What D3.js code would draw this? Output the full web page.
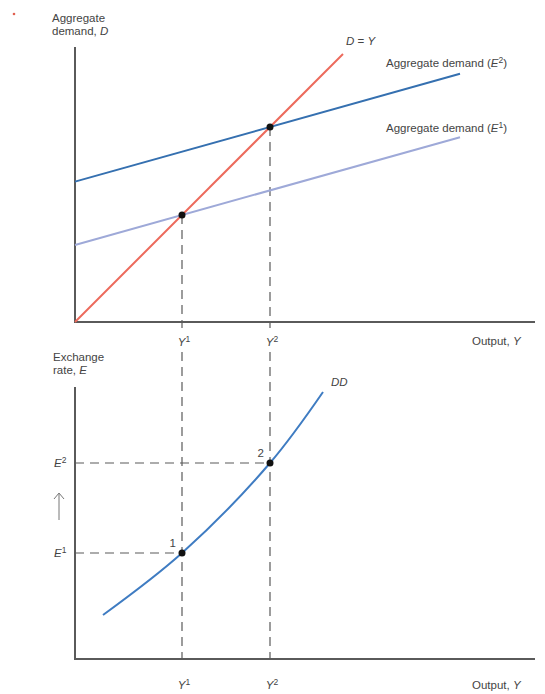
<!DOCTYPE html>
<html>
<head>
<meta charset="utf-8">
<script src="https://cdn.jsdelivr.net/npm/d3@7"></script>
<style>
  html, body { margin: 0; padding: 0; background: #fff; }
  svg { display: block; }
  text { font-family: "Liberation Sans", Arial, sans-serif; fill: #444; font-size: 11.5px; }
</style>
</head>
<body>
<svg id="chart" width="545" height="694"></svg>
<script>
// Output levels at the two equilibria
const outputLevels = [107, 195];               // Y1, Y2
const outputLabels = ["1", "2"];
// Aggregate demand lines (E1 and E2) and the 45-degree D = Y line
const lineDY = [[0, 0], [268, 268]];
const adE1 = [[0, 77], [385, 184.8]];
const adE2 = [[0, 140.4], [385, 248.2]];
// Exchange rates at the two equilibria
const exchangeLevels = [106, 196];             // E1, E2
// DD schedule
const ddCurve = [[28, 44], [107, 106], [195, 196], [248, 267]];

const svg = d3.select("#chart");
const axisColor = "#5a5a5a";

// Shared horizontal scale (output)
const x = d3.scaleLinear().domain([0, 460]).range([75, 535]);
// Top panel: aggregate demand
const yTop = d3.scaleLinear().domain([0, 275]).range([322, 47]);
// Bottom panel: exchange rate
const yBot = d3.scaleLinear().domain([0, 272]).range([659, 387]);

const line = (ys) => d3.line().x(d => x(d[0])).y(d => ys(d[1]));

// small mark in the corner
svg.append("circle").attr("cx", 14).attr("cy", 14).attr("r", 1.3).attr("fill", "#e06050");

// ---------- Axes ----------
function axes(ys, topVal) {
  svg.append("path")
    .attr("d", `M${x(0)},${ys(topVal)}V${ys(0)}H${x(460)}`)
    .attr("fill", "none").attr("stroke", axisColor).attr("stroke-width", 2);
}
axes(yTop, 275);
axes(yBot, 272);

// ---------- Dashed guides ----------
const dash = "9,6";
outputLevels.forEach((v, i) => {
  // top panel: from equilibrium point down to the axis
  svg.append("line")
    .attr("x1", x(v)).attr("x2", x(v))
    .attr("y1", yTop(v)).attr("y2", yTop(0) + 6)
    .attr("stroke", axisColor).attr("stroke-width", 1.2).attr("stroke-dasharray", dash);
  // continues through the lower panel
  svg.append("line")
    .attr("x1", x(v)).attr("x2", x(v))
    .attr("y1", 352).attr("y2", yBot(0))
    .attr("stroke", axisColor).attr("stroke-width", 1.2).attr("stroke-dasharray", dash);
});
exchangeLevels.forEach((e, i) => {
  svg.append("line")
    .attr("x1", x(0)).attr("x2", x(outputLevels[i]))
    .attr("y1", yBot(e)).attr("y2", yBot(e))
    .attr("stroke", axisColor).attr("stroke-width", 1.2).attr("stroke-dasharray", dash);
});

// ---------- Top panel lines ----------
svg.append("path").datum(adE1).attr("d", line(yTop))
  .attr("fill", "none").attr("stroke", "#9ea9d8").attr("stroke-width", 2);
svg.append("path").datum(adE2).attr("d", line(yTop))
  .attr("fill", "none").attr("stroke", "#3570b0").attr("stroke-width", 2);
svg.append("path").datum(lineDY).attr("d", line(yTop))
  .attr("fill", "none").attr("stroke", "#ec6a5c").attr("stroke-width", 2);

outputLevels.forEach(v => {
  svg.append("circle").attr("cx", x(v)).attr("cy", yTop(v)).attr("r", 3.5).attr("fill", "#111");
});

// ---------- Bottom panel curve ----------
svg.append("path").datum(ddCurve).attr("d", line(yBot).curve(d3.curveCatmullRom.alpha(0.5)))
  .attr("fill", "none").attr("stroke", "#3f7cc2").attr("stroke-width", 2);
outputLevels.forEach((v, i) => {
  svg.append("circle").attr("cx", x(v)).attr("cy", yBot(exchangeLevels[i])).attr("r", 3.5).attr("fill", "#111");
  svg.append("text").attr("x", x(v) - 6).attr("y", yBot(exchangeLevels[i]) - 6)
    .attr("text-anchor", "end").text(outputLabels[i]);
});

// ---------- Text ----------
function label(xp, yp, parts, anchor) {
  const t = svg.append("text").attr("x", xp).attr("y", yp).attr("text-anchor", anchor || "start");
  parts.forEach(p => {
    const s = t.append("tspan").text(p.t);
    if (p.i) s.attr("font-style", "italic");
    if (p.sup) s.attr("font-size", "8.5px").attr("dy", "-4");
    if (p.down) s.attr("dy", "4");
  });
  return t;
}

// axis titles
label(52, 22, [{t: "Aggregate"}]);
label(52, 35, [{t: "demand, "}, {t: "D", i: true}]);
label(53, 361, [{t: "Exchange"}]);
label(53, 374, [{t: "rate, "}, {t: "E", i: true}]);
label(472, 345, [{t: "Output, "}, {t: "Y", i: true}]);
label(472, 689, [{t: "Output, "}, {t: "Y", i: true}]);

// line labels
label(346, 45, [{t: "D", i: true}, {t: " = "}, {t: "Y", i: true}]);
label(386, 67, [{t: "Aggregate demand ("}, {t: "E", i: true}, {t: "2", sup: true}, {t: ")", down: true}]);
label(386, 132, [{t: "Aggregate demand ("}, {t: "E", i: true}, {t: "1", sup: true}, {t: ")", down: true}]);
label(331, 386, [{t: "DD", i: true}]);

// output tick labels in both panels
outputLevels.forEach((v, i) => {
  [346, 689].forEach(yp => {
    label(x(v) + 2, yp, [{t: "Y", i: true}, {t: outputLabels[i], sup: true}], "middle");
  });
});
// exchange-rate tick labels
exchangeLevels.forEach((e, i) => {
  label(54, yBot(e) + 4, [{t: "E", i: true}, {t: outputLabels[i], sup: true}]);
});

// upward arrow between E1 and E2
svg.append("path").attr("d", "M59,520V494M54,499L59,493L64,499")
  .attr("fill", "none").attr("stroke", "#777").attr("stroke-width", 1);
</script>
</body>
</html>
